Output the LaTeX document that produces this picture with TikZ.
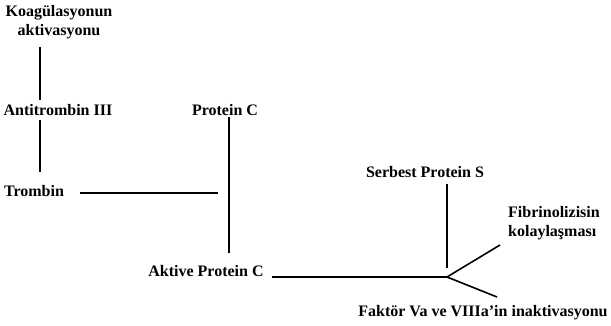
\documentclass[tikz,border=0pt]{standalone}
\usepackage{fontspec}
\setmainfont{Liberation Serif}
\begin{document}
\begin{tikzpicture}[x=1pt,y=-1pt,
  lbl/.style={font=\fontsize{16}{19}\selectfont\bfseries, inner sep=2pt, align=center},
  con/.style={line width=1.6pt}]
\useasboundingbox (0,0) rectangle (611,326);
\node[lbl] (koag) at (59,22) {Koagülasyonun\\aktivasyonu};
\node[lbl] (at3) at (58,110) {Antitrombin III};
\node[lbl] (trombin) at (34,191) {Trombin};
\node[lbl] (pc) at (225,110) {Protein C};
\node[lbl] (apc) at (206,271) {Aktive Protein C};
\node[lbl] (ps) at (425,172) {Serbest Protein S};
\node[lbl, align=left, anchor=west] (fib) at (506,223) {Fibrinolizisin\\kolaylaşması};
\node[lbl] (fak) at (483,313) {Faktör Va ve VIIIa'in inaktivasyonu};
\coordinate (k1) at (40,47);
\coordinate (k2) at (40,100);
\coordinate (a1) at (40,120);
\coordinate (a2) at (40,172);
\coordinate (t1) at (80,193);
\coordinate (t2) at (218,193);
\coordinate (p1) at (229,117);
\coordinate (p2) at (229,253);
\coordinate (j) at (447,277);
\coordinate (s1) at (447,184);
\coordinate (fe) at (500,245);
\coordinate (de) at (497,297);
\draw[con] (k1) -- (k2);
\draw[con] (a1) -- (a2);
\draw[con] (t1) -- (t2);
\draw[con] (p1) -- (p2);
\draw[con] (apc.east |- j) ++(6,0) -- (j);
\draw[con] (s1) -- (j |- 0,268);
\draw[con] (j) -- (fe);
\draw[con] (j) -- (de);
\end{tikzpicture}
\end{document}
